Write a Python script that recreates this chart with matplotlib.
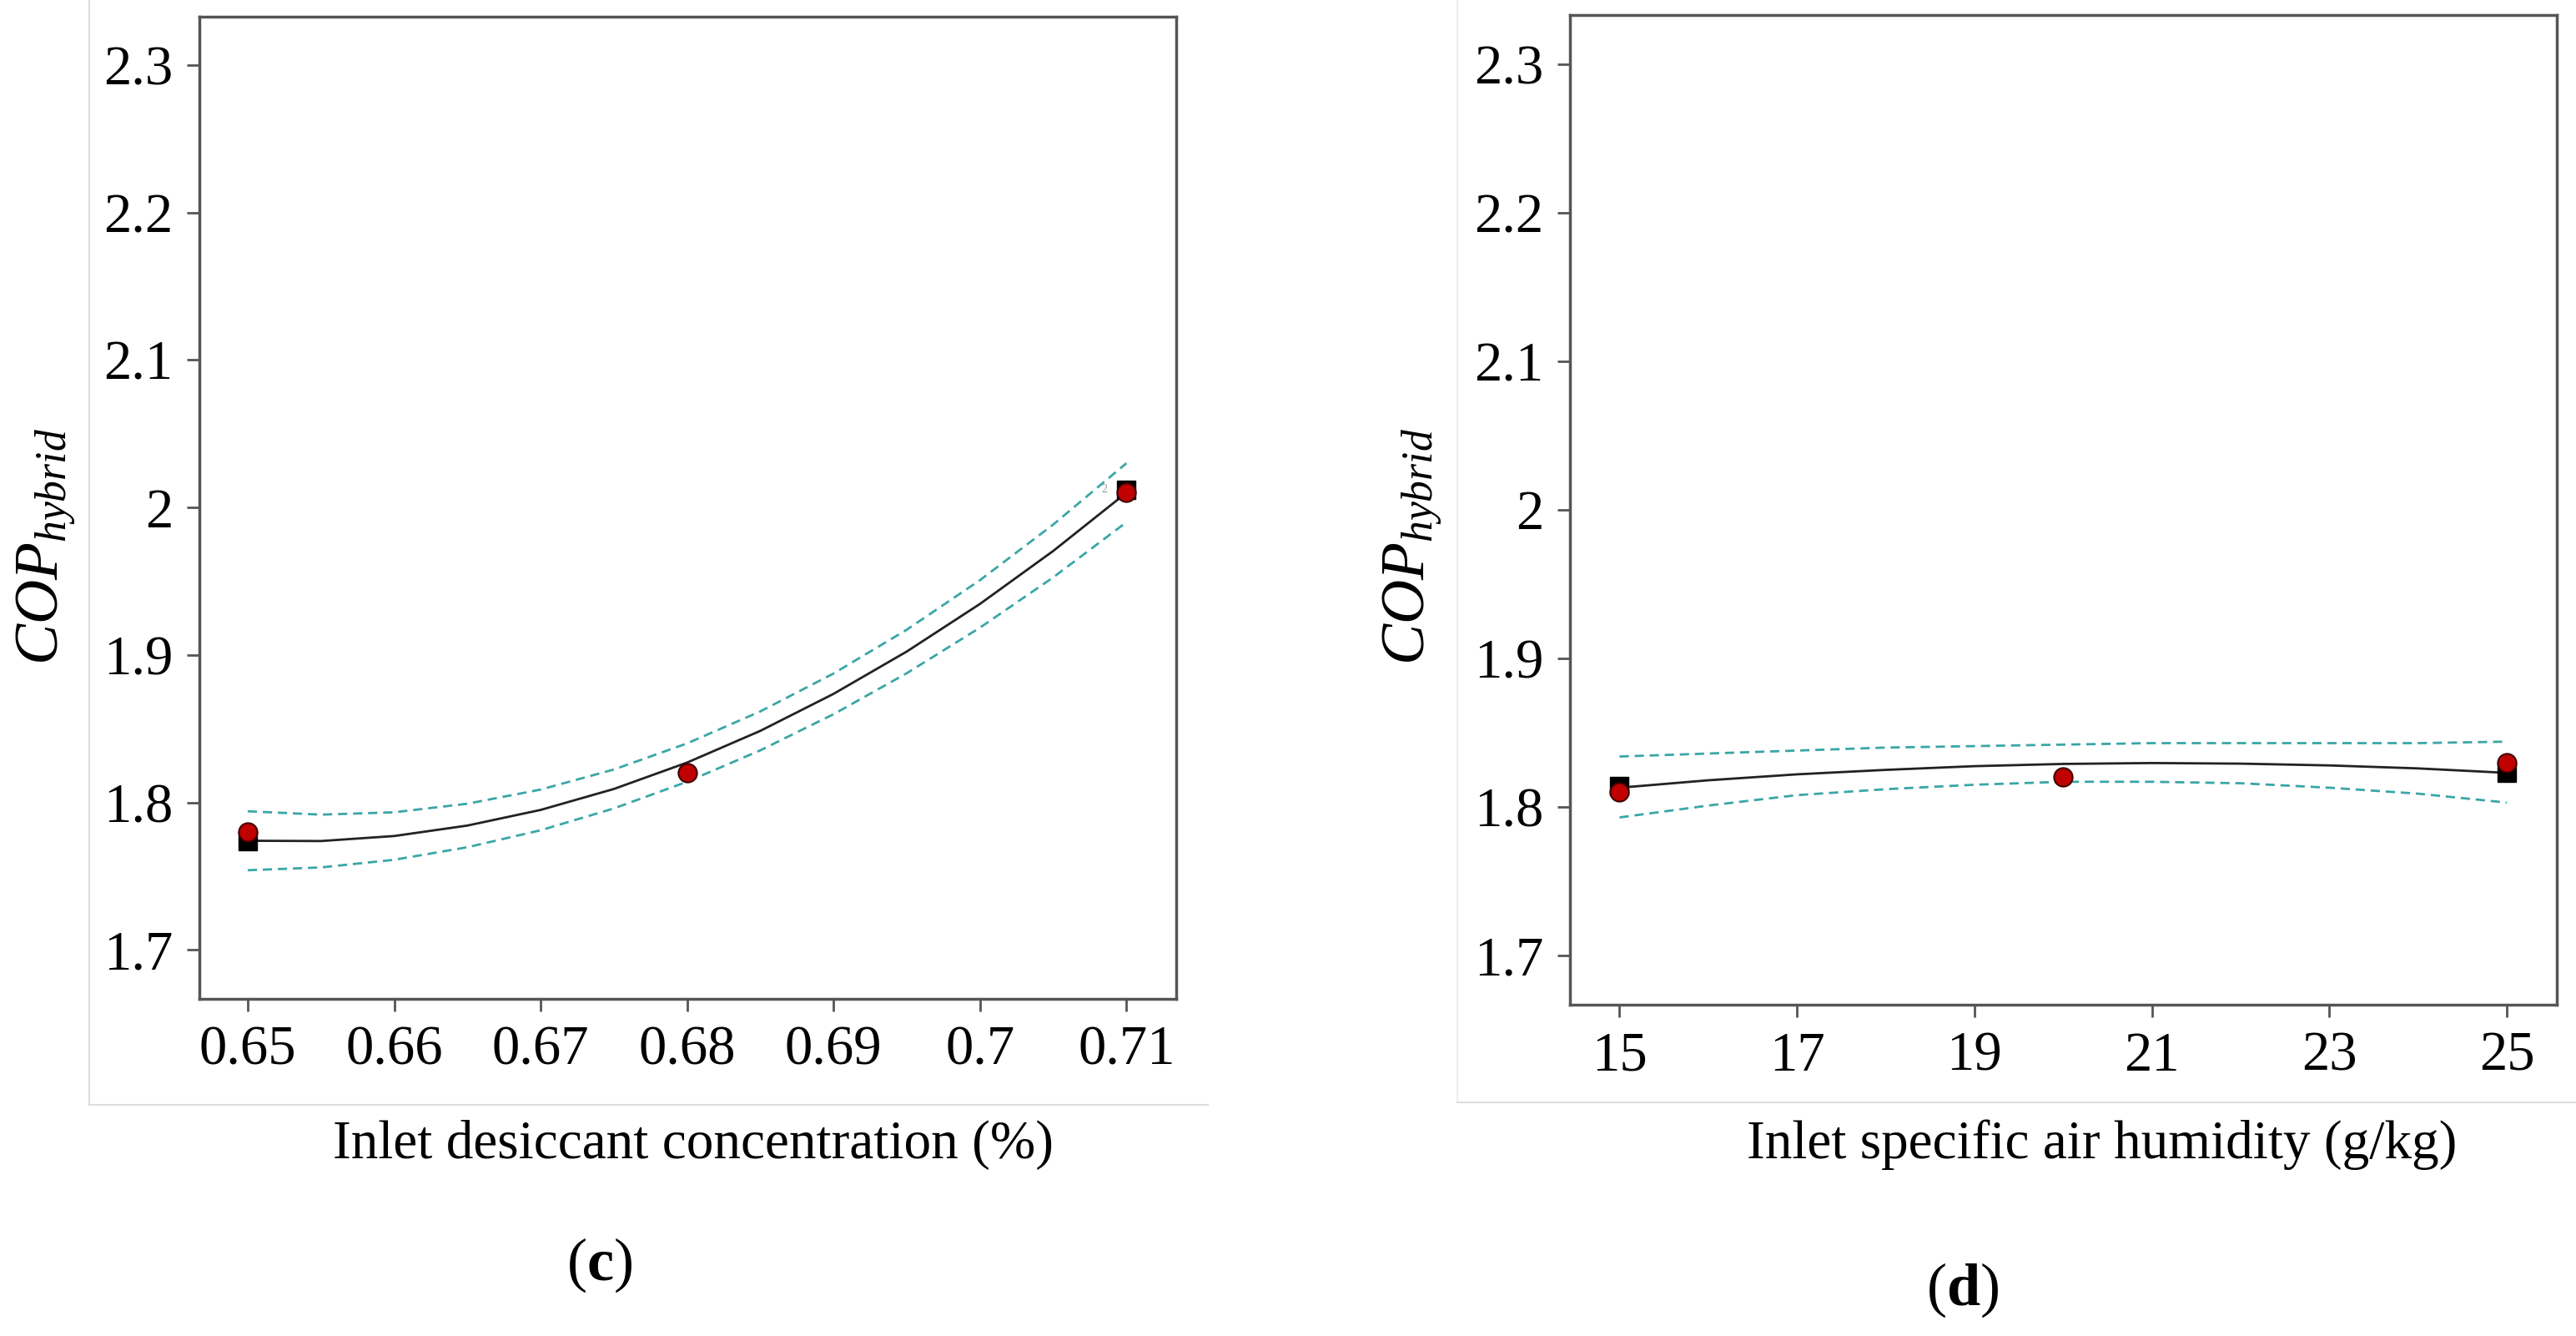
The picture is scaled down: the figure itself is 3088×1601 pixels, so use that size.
import matplotlib
matplotlib.use('Agg')
import matplotlib.pyplot as plt
from matplotlib.lines import Line2D

plt.rcParams['font.family'] = 'Liberation Serif'
plt.rcParams['mathtext.fontset'] = 'custom'
plt.rcParams['mathtext.rm'] = 'Liberation Serif'
plt.rcParams['mathtext.it'] = 'Liberation Serif:italic'
plt.rcParams['mathtext.bf'] = 'Liberation Serif:bold'

# (c) inlet desiccant concentration
conc_x = [0.65, 0.655, 0.66, 0.665, 0.67, 0.675, 0.68, 0.685, 0.69, 0.695, 0.70, 0.705, 0.71]
conc_fit = [1.7740, 1.7738, 1.7772, 1.7843, 1.7949, 1.8091, 1.8270, 1.8485, 1.8736, 1.9023, 1.9346, 1.9705, 2.0100]
conc_upper = [1.7940, 1.7917, 1.7933, 1.7991, 1.8087, 1.8223, 1.8400, 1.8617, 1.8874, 1.9171, 1.9507, 1.9884, 2.0300]
conc_lower = [1.7540, 1.7559, 1.7611, 1.7696, 1.7811, 1.7959, 1.8140, 1.8353, 1.8598, 1.8876, 1.9185, 1.9526, 1.9900]
conc_pts_x = [0.65, 0.68, 0.71]
conc_pts_y = [1.780, 1.820, 2.010]
conc_sq_x = [0.65, 0.71]
conc_sq_y = [1.774, 2.012]
conc_ticks = [0.65, 0.66, 0.67, 0.68, 0.69, 0.70, 0.71]
conc_labels = ['0.65', '0.66', '0.67', '0.68', '0.69', '0.7', '0.71']

# (d) inlet specific air humidity
hum_x = [15, 16, 17, 18, 19, 20, 21, 22, 23, 24, 25]
hum_fit = [1.813, 1.818, 1.822, 1.825, 1.8275, 1.829, 1.8296, 1.8292, 1.828, 1.826, 1.823]
hum_upper = [1.834, 1.836, 1.838, 1.840, 1.841, 1.842, 1.843, 1.843, 1.843, 1.843, 1.844]
hum_lower = [1.793, 1.801, 1.808, 1.812, 1.815, 1.817, 1.817, 1.816, 1.813, 1.809, 1.803]
hum_pts_x = [15, 20, 25]
hum_pts_y = [1.810, 1.820, 1.830]
hum_sq_x = [15, 25]
hum_sq_y = [1.814, 1.823]
hum_ticks = [15, 17, 19, 21, 23, 25]

y_ticks = [1.7, 1.8, 1.9, 2.0, 2.1, 2.2, 2.3]
y_labels = ['1.7', '1.8', '1.9', '2', '2.1', '2.2', '2.3']

teal = '#3aa6a6'
spine_col = '#555555'

fig = plt.figure(figsize=(30.88, 16.01), dpi=100)
ax1 = fig.add_axes([0.0774, 0.2526, 0.3792, 0.7351])
ax2 = fig.add_axes([0.6096, 0.2480, 0.3828, 0.7408])


def draw(ax, x, fit, up, lo, px, py, sx, sy):
    ax.plot(x, up, '--', color=teal, lw=2, dashes=(4, 2.5))
    ax.plot(x, lo, '--', color=teal, lw=2, dashes=(4, 2.5))
    ax.plot(x, fit, '-', color='#222222', lw=2)
    ax.plot(sx, sy, 's', color='black', ms=16, zorder=4)
    ax.plot(px, py, 'o', color='#c00000', mec='#400000', mew=1.5, ms=16, zorder=5)
    ax.set_ylim(1.667, 2.333)
    ax.set_yticks(y_ticks)
    ax.set_yticklabels(y_labels)
    ax.tick_params(direction='out', length=11, width=2, color=spine_col,
                   labelsize=48, pad=12)
    for s in ax.spines.values():
        s.set_color(spine_col)
        s.set_linewidth(2.5)


draw(ax1, conc_x, conc_fit, conc_upper, conc_lower,
     conc_pts_x, conc_pts_y, conc_sq_x, conc_sq_y)
ax1.set_xlim(0.6467, 0.7134)
ax1.set_xticks(conc_ticks)
ax1.set_xticklabels(conc_labels)
ax1.text(0.7085, 2.012, '2', fontsize=10, color='#999999', ha='center', va='center')

draw(ax2, hum_x, hum_fit, hum_upper, hum_lower,
     hum_pts_x, hum_pts_y, hum_sq_x, hum_sq_y)
ax2.set_xlim(14.445, 25.56)
ax2.set_xticks(hum_ticks)

# light frame lines around each panel
fig.add_artist(Line2D([107/3088, 107/3088], [1 - 1324/1601, 1], color='#dddddd', lw=1.5))
fig.add_artist(Line2D([107/3088, 1448/3088], [1 - 1324/1601, 1 - 1324/1601], color='#dddddd', lw=1.5))
fig.add_artist(Line2D([1747/3088, 1747/3088], [1 - 1321/1601, 1], color='#eeeeee', lw=1.5))
fig.add_artist(Line2D([1747/3088, 1], [1 - 1321/1601, 1 - 1321/1601], color='#dddddd', lw=1.5))

# axis titles
fig.text(831/3088, 1 - 1372/1601, 'Inlet desiccant concentration (%)',
         fontsize=47, ha='center', va='center')
fig.text(2520/3088, 1 - 1372/1601, 'Inlet specific air humidity (g/kg)',
         fontsize=47, ha='center', va='center')
fig.text(55/3088, 1 - 655/1601, r'$COP_{hybrid}$', fontsize=53,
         rotation=90, ha='center', va='center')
fig.text(1693/3088, 1 - 655/1601, r'$COP_{hybrid}$', fontsize=53,
         rotation=90, ha='center', va='center')

# panel labels
fig.text(719/3088, 1 - 1516/1601, r'($\mathbf{c}$)', fontsize=52, ha='center', va='center')
fig.text(2353/3088, 1 - 1546/1601, r'($\mathbf{d}$)', fontsize=52, ha='center', va='center')

fig.savefig('out.png', dpi=100)
